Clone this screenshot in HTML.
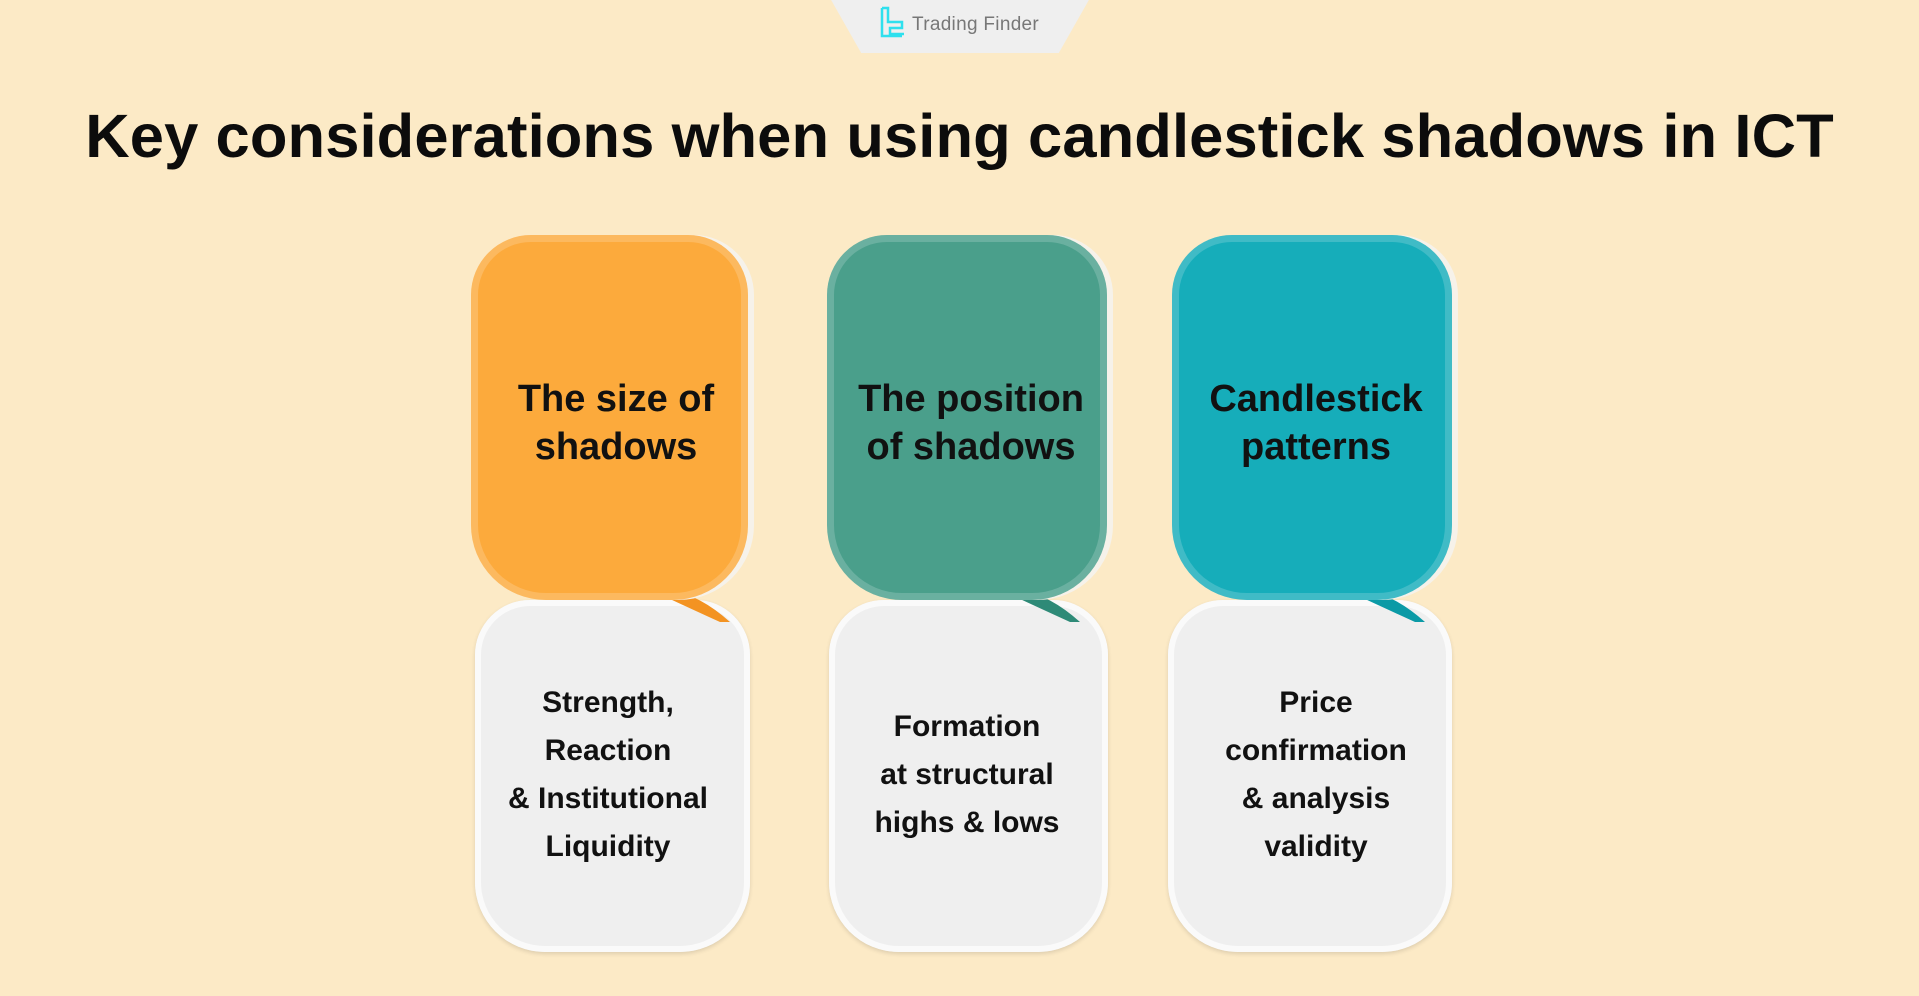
<!DOCTYPE html>
<html><head><meta charset="utf-8"><style>
*{margin:0;padding:0;box-sizing:border-box}
body{width:1919px;height:996px;background:#fceac6;position:relative;overflow:hidden;font-family:"Liberation Sans",sans-serif}
.tab{position:absolute;left:830px;top:-2px;width:260px;height:55px;background:#efefef;clip-path:polygon(0 0,100% 0,88% 100%,12% 100%);border-radius:0 0 12px 12px}
.logo{position:absolute;font-size:19px;color:#777;letter-spacing:0.3px}
.title{position:absolute;left:0;width:1919px;top:101px;text-align:center;font-size:61.5px;font-weight:bold;color:#0c0c0c;letter-spacing:0.1px}
.w{position:absolute;background:#efefef;border-radius:55px 55px 70px 70px;box-shadow:inset 0 0 0 6px #fafafa,0 2px 4px rgba(0,0,0,0.12)}
.c{position:absolute;border-radius:60px 60px 75px 75px;box-shadow:inset 0 0 0 7px rgba(255,255,255,0.18),6px 0 0 #f6f2ea}
.t{position:absolute;text-align:center;font-weight:bold;color:#111}
.h{font-size:38px;line-height:48px}
.s{font-size:30px;line-height:48px}
</style></head><body>
<div class="tab"></div>
<svg style="position:absolute;left:880px;top:6px" width="26" height="34" viewBox="0 0 26 34"><path d="M2 2h6v14h14v6H10v6h14" fill="none" stroke="#2fe0ee" stroke-width="2.5"/><path d="M2 2v28h20" fill="none" stroke="#2fe0ee" stroke-width="2.5"/></svg>
<div class="logo" style="left:912px;top:14px">Trading Finder</div>
<div class="title">Key considerations when using candlestick shadows in ICT</div>

<div class="w" style="left:475px;top:600px;width:275px;height:352px"></div>
<div class="w" style="left:829px;top:600px;width:279px;height:352px"></div>
<div class="w" style="left:1168px;top:600px;width:284px;height:352px"></div>

<svg style="position:absolute;left:560px;top:560px" width="200" height="70"><path d="M0 20 L70 20 Q90 30 160 62 L170 62 Q140 35 110 30 L100 0 Z" fill="#f39322"/></svg>
<svg style="position:absolute;left:910px;top:560px" width="200" height="70"><path d="M0 20 L70 20 Q90 30 160 62 L170 62 Q140 35 110 30 L100 0 Z" fill="#2e8a77"/></svg>
<svg style="position:absolute;left:1255px;top:560px" width="200" height="70"><path d="M0 20 L70 20 Q90 30 160 62 L170 62 Q140 35 110 30 L100 0 Z" fill="#0b9aa6"/></svg>

<div class="c" style="left:471px;top:235px;width:277px;height:365px;background:#fcaa3c"></div>
<div class="c" style="left:827px;top:235px;width:280px;height:365px;background:#4a9f8b"></div>
<div class="c" style="left:1172px;top:235px;width:280px;height:365px;background:#16adba"></div>

<div class="t h" style="left:476px;width:280px;top:375px">The size of<br>shadows</div>
<div class="t h" style="left:831px;width:280px;top:375px">The position<br>of shadows</div>
<div class="t h" style="left:1176px;width:280px;top:375px">Candlestick<br>patterns</div>

<div class="t s" style="left:468px;width:280px;top:679px">Strength,<br>Reaction<br>&amp; Institutional<br>Liquidity</div>
<div class="t s" style="left:827px;width:280px;top:703px">Formation<br>at structural<br>highs &amp; lows</div>
<div class="t s" style="left:1176px;width:280px;top:679px">Price<br>confirmation<br>&amp; analysis<br>validity</div>
</body></html>
